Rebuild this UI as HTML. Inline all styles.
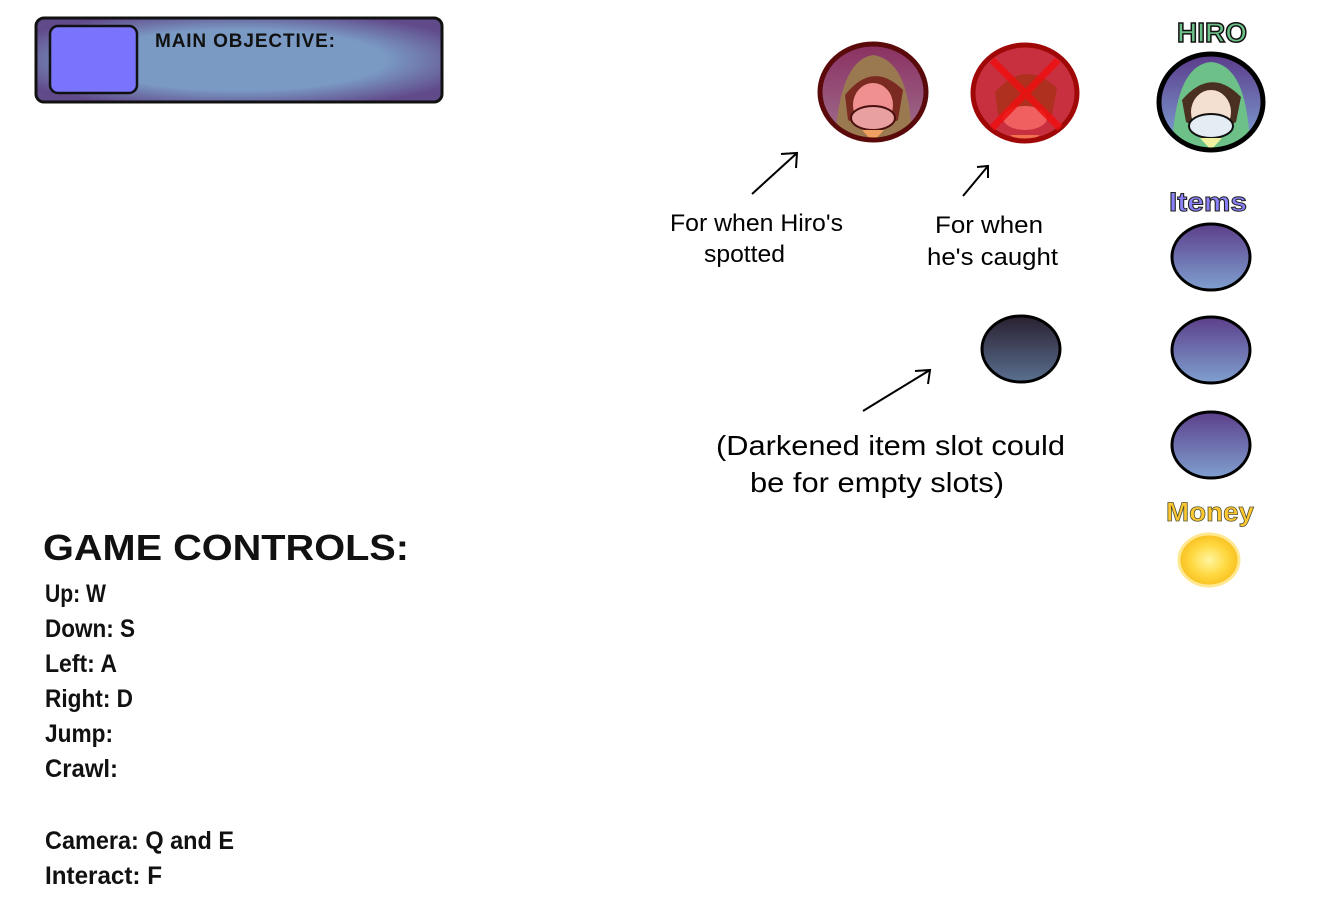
<!DOCTYPE html>
<html><head><meta charset="utf-8"><style>
html,body{margin:0;padding:0;background:#fff;width:1323px;height:897px;overflow:hidden}
svg{display:block}
.cap{font-family:"Liberation Sans",Arial,sans-serif;font-size:24px;fill:#000}
.ctl{font-family:"Liberation Sans Narrow","Liberation Sans",sans-serif;font-size:25px;font-weight:bold;fill:#111}
</style></head><body>
<svg width="1323" height="897" viewBox="0 0 1323 897">
<defs>
<linearGradient id="slot" x1="0" y1="0" x2="0" y2="1"><stop offset="0" stop-color="#5c3f8a"/><stop offset="1" stop-color="#7fa0d0"/></linearGradient>
<linearGradient id="dark" x1="0" y1="0" x2="0" y2="1"><stop offset="0" stop-color="#2a2030"/><stop offset="1" stop-color="#5a7090"/></linearGradient>
<linearGradient id="p1" x1="0" y1="0" x2="0" y2="1"><stop offset="0" stop-color="#8a3060"/><stop offset="1" stop-color="#a07090"/></linearGradient>
<linearGradient id="p3" x1="0" y1="0" x2="0" y2="1"><stop offset="0" stop-color="#5a3a8a"/><stop offset="1" stop-color="#80a8d8"/></linearGradient>
<radialGradient id="coin"><stop offset="0" stop-color="#fff6a0"/><stop offset="0.6" stop-color="#ffd840"/><stop offset="1" stop-color="#f8c020"/></radialGradient>
<radialGradient id="obj" cx="0.5" cy="0.5" r="0.6"><stop offset="0.6" stop-color="#7a9ac4"/><stop offset="1" stop-color="#614a8a"/></radialGradient>
<clipPath id="c1"><ellipse cx="873" cy="92" rx="51" ry="46"/></clipPath>
<clipPath id="c2"><ellipse cx="1025" cy="93" rx="50" ry="46"/></clipPath>
<clipPath id="c3"><ellipse cx="1211" cy="102" rx="50" ry="46"/></clipPath>
</defs>

<g>
<rect x="36" y="18" width="406" height="84" rx="8" fill="url(#obj)" stroke="#111" stroke-width="3"/>
<rect x="50" y="26" width="87" height="67" rx="8" fill="#7a74fc" stroke="#111" stroke-width="2.5"/>
<text x="155" y="47" font-family="'Liberation Sans',sans-serif" font-weight="bold" font-size="19" fill="#111" textLength="180">MAIN OBJECTIVE:</text>
</g>

<g>
<ellipse cx="873" cy="92" rx="53" ry="48" fill="url(#p1)"/>
<g clip-path="url(#c1)">
<path d="M835 140 Q840 60 873 55 Q910 60 912 140Z" fill="#9a7850"/>
<path d="M845 95 Q873 60 903 90 L898 120 Q873 135 848 120Z" fill="#7a2a20"/>
<ellipse cx="873" cy="105" rx="20" ry="22" fill="#f09090"/>
<ellipse cx="873" cy="118" rx="22" ry="12" fill="#e8a0a0" stroke="#4a1010" stroke-width="2"/>
<path d="M862 130 L884 130 L873 142Z" fill="#f0a060"/>
</g>
<ellipse cx="873" cy="92" rx="53" ry="48" fill="none" stroke="#5a0a0a" stroke-width="5"/>
</g>
<g>
<ellipse cx="1025" cy="93" rx="52" ry="48" fill="#c83040"/>
<g clip-path="url(#c2)">
<path d="M995 92 Q1025 58 1057 88 L1052 115 Q1025 130 998 115Z" fill="#b03020"/>
<ellipse cx="1025" cy="118" rx="22" ry="12" fill="#f06060"/>
<path d="M1010 135 L1040 135 L1025 145Z" fill="#f07050"/>
</g>
<ellipse cx="1025" cy="93" rx="52" ry="48" fill="none" stroke="#a00808" stroke-width="5"/>
<path d="M992 60 L1060 128 M1058 60 L992 128" stroke="#ee1010" stroke-width="7" opacity="0.85"/>
</g>
<text x="1212" y="42" text-anchor="middle" font-family="'Liberation Sans',sans-serif" font-weight="bold" font-size="28" fill="#6cc088" stroke="#111" stroke-width="1.5" textLength="70" lengthAdjust="spacingAndGlyphs">HIRO</text>
<g>
<ellipse cx="1211" cy="102" rx="52" ry="48" fill="url(#p3)"/>
<g clip-path="url(#c3)">
<path d="M1172 150 Q1175 65 1211 62 Q1248 65 1250 150Z" fill="#6cc088"/>
<path d="M1182 100 Q1211 66 1241 97 L1236 122 Q1211 136 1186 122Z" fill="#4a3020"/>
<ellipse cx="1211" cy="112" rx="20" ry="22" fill="#f4e0d0"/>
<ellipse cx="1211" cy="126" rx="22" ry="12" fill="#e4ecf4" stroke="#111" stroke-width="2"/>
<path d="M1200 138 L1222 138 L1211 150Z" fill="#f0f0a0"/>
</g>
<ellipse cx="1211" cy="102" rx="52" ry="48" fill="none" stroke="#000" stroke-width="5"/>
</g>

<g stroke="#000" stroke-width="2" fill="none">
<path d="M752 194 L797 153 M781 154 L797 153 L796 168"/>
<path d="M963 196 L988 166 M977 167 L988 166 L988 178"/>
<path d="M863 411 L930 370 M915 371 L930 370 L928 384"/>
</g>

<text class="cap" x="670" y="231" textLength="173" lengthAdjust="spacingAndGlyphs">For when Hiro's</text>
<text class="cap" x="704" y="262" textLength="81" lengthAdjust="spacingAndGlyphs">spotted</text>
<text class="cap" x="935" y="233" textLength="108" lengthAdjust="spacingAndGlyphs">For when</text>
<text class="cap" x="927" y="265" textLength="131" lengthAdjust="spacingAndGlyphs">he's caught</text>
<text class="cap" x="716" y="455" style="font-size:28px" textLength="349" lengthAdjust="spacingAndGlyphs">(Darkened item slot could</text>
<text class="cap" x="750" y="492" style="font-size:28px" textLength="254" lengthAdjust="spacingAndGlyphs">be for empty slots)</text>

<ellipse cx="1021" cy="349" rx="39" ry="33" fill="url(#dark)" stroke="#000" stroke-width="3"/>

<text x="1208" y="211" text-anchor="middle" font-family="'Liberation Sans',sans-serif" font-weight="bold" font-size="27" fill="#8a80f8" stroke="#222" stroke-width="1" textLength="78" lengthAdjust="spacingAndGlyphs">Items</text>
<ellipse cx="1211" cy="257" rx="39" ry="33" fill="url(#slot)" stroke="#000" stroke-width="3"/>
<ellipse cx="1211" cy="350" rx="39" ry="33" fill="url(#slot)" stroke="#000" stroke-width="3"/>
<ellipse cx="1211" cy="445" rx="39" ry="33" fill="url(#slot)" stroke="#000" stroke-width="3"/>

<text x="1210" y="521" text-anchor="middle" font-family="'Liberation Sans',sans-serif" font-weight="bold" font-size="27" fill="#ffc830" stroke="#553" stroke-width="0.8" textLength="88" lengthAdjust="spacingAndGlyphs">Money</text>
<ellipse cx="1209" cy="560" rx="30" ry="26" fill="url(#coin)" stroke="#ffe890" stroke-width="3"/>

<text x="43" y="560" font-family="'Liberation Sans',sans-serif" font-weight="bold" font-size="36" fill="#111" textLength="366" lengthAdjust="spacingAndGlyphs">GAME CONTROLS:</text>
<g>
<text class="ctl" x="45" y="602" textLength="61" lengthAdjust="spacingAndGlyphs">Up: W</text>
<text class="ctl" x="45" y="637" textLength="90" lengthAdjust="spacingAndGlyphs">Down: S</text>
<text class="ctl" x="45" y="672" textLength="72" lengthAdjust="spacingAndGlyphs">Left: A</text>
<text class="ctl" x="45" y="707" textLength="88" lengthAdjust="spacingAndGlyphs">Right: D</text>
<text class="ctl" x="45" y="742" textLength="68" lengthAdjust="spacingAndGlyphs">Jump:</text>
<text class="ctl" x="45" y="777" textLength="73" lengthAdjust="spacingAndGlyphs">Crawl:</text>
<text class="ctl" x="45" y="849" textLength="189" lengthAdjust="spacingAndGlyphs">Camera: Q and E</text>
<text class="ctl" x="45" y="884" textLength="117" lengthAdjust="spacingAndGlyphs">Interact: F</text>
</g>
</svg>
</body></html>
